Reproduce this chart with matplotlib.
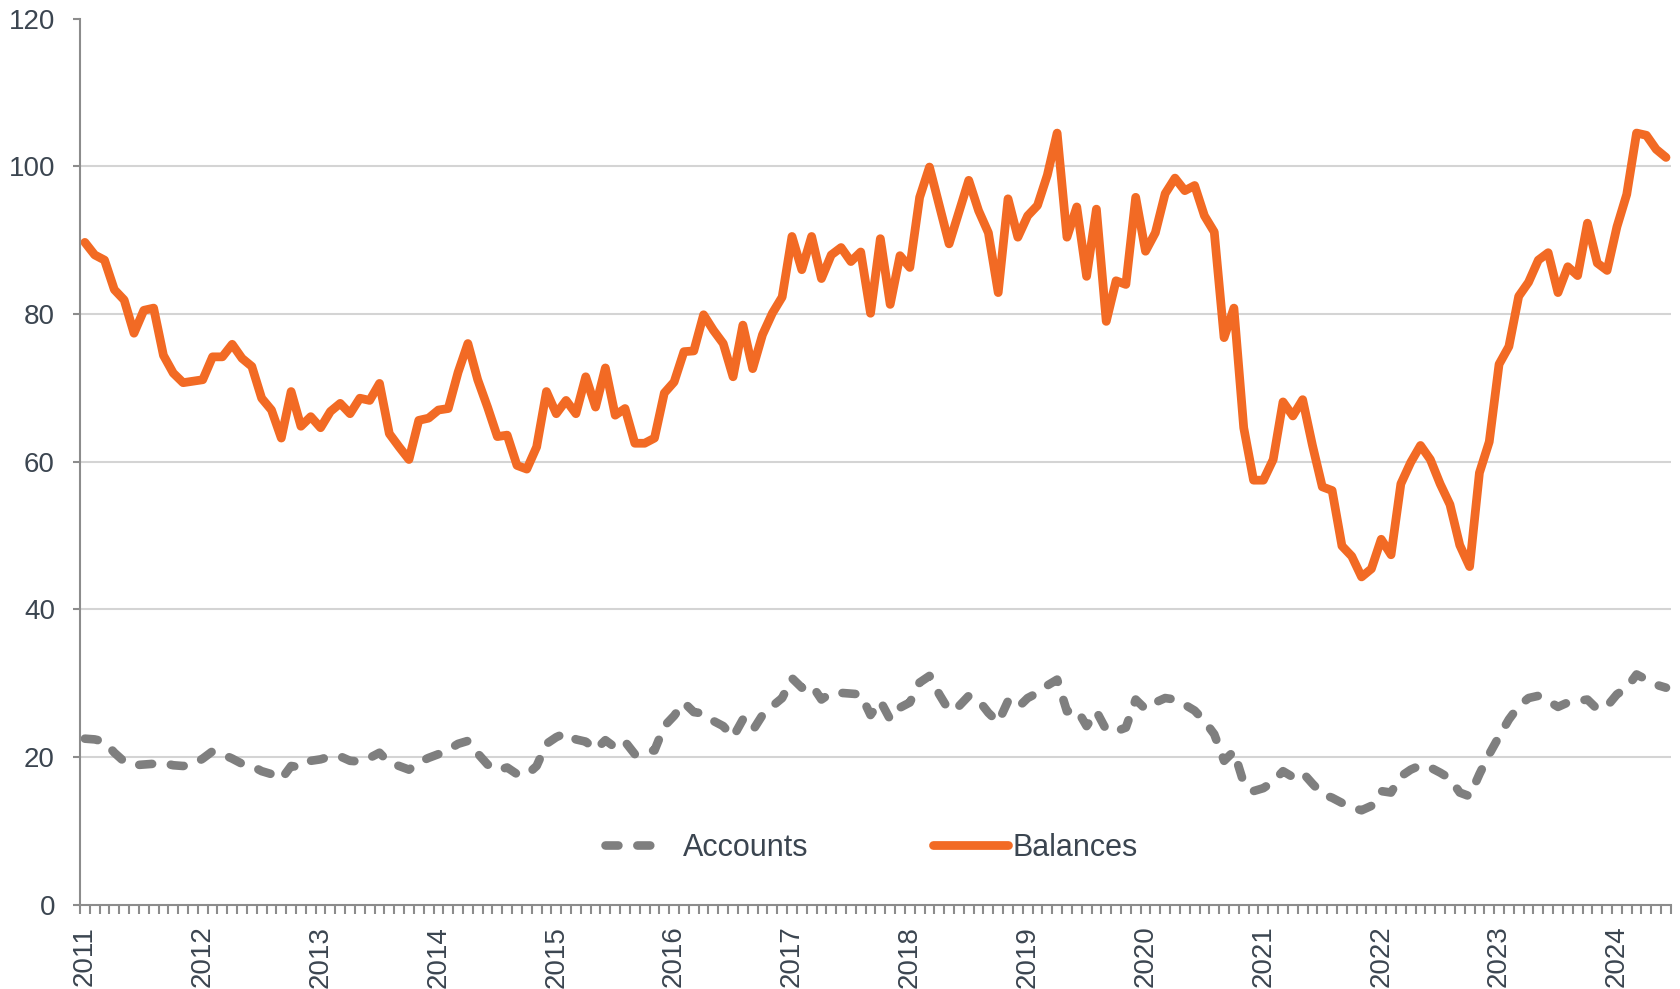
import numpy as np
import pandas as pd
import matplotlib
matplotlib.use('Agg')
import matplotlib.pyplot as plt
from matplotlib.ticker import FixedLocator

plt.rcParams['font.family'] = ['Liberation Sans', 'DejaVu Sans']

# monthly series, Jan 2011 - Jun 2024
months = pd.date_range('2011-01-01', periods=162, freq='MS')

balances = [
    89.7, 88.0, 87.3, 83.3, 81.9, 77.4, 80.5, 80.8, 74.4, 72.0, 70.7, 70.9,
    71.1, 74.2, 74.2, 75.9, 74.0, 72.9, 68.6, 67.0, 63.2, 69.5, 64.8, 66.1,
    64.6, 66.8, 67.9, 66.5, 68.6, 68.3, 70.6, 63.8, 62.0, 60.3, 65.6, 65.9,
    67.0, 67.2, 72.1, 76.0, 71.1, 67.4, 63.4, 63.6, 59.5, 59.0, 62.0, 69.5,
    66.5, 68.3, 66.5, 71.5, 67.4, 72.7, 66.3, 67.2, 62.5, 62.5, 63.2, 69.3,
    70.8, 74.9, 75.0, 79.9, 77.8, 76.0, 71.5, 78.5, 72.6, 77.2, 80.1, 82.3,
    90.5, 86.0, 90.5, 84.8, 88.0, 89.0, 87.1, 88.4, 80.1, 90.2, 81.3, 87.9,
    86.3, 95.8, 99.9, 94.7, 89.5, 93.8, 98.1, 94.0, 91.0, 82.9, 95.6, 90.4,
    93.3, 94.7, 98.8, 104.5, 90.4, 94.5, 85.1, 94.2, 79.0, 84.5, 84.0, 95.8,
    88.5, 91.0, 96.3, 98.4, 96.7, 97.4, 93.3, 91.1, 76.8, 80.8, 64.6, 57.5,
    57.5, 60.3, 68.1, 66.2, 68.4, 62.2, 56.6, 56.1, 48.6, 47.2, 44.4, 45.5,
    49.5, 47.4, 57.0, 59.9, 62.2, 60.3, 57.0, 54.2, 48.7, 45.8, 58.5, 62.7,
    73.2, 75.6, 82.4, 84.3, 87.3, 88.3, 82.9, 86.4, 85.2, 92.3, 86.9, 85.9,
    91.8, 96.2, 104.5, 104.2, 102.3, 101.2,
]

accounts = [
    22.5, 22.4, 22.1, 20.6, 19.4, 18.9, 19.0, 19.1, 19.2, 18.9, 18.8, 19.0,
    19.8, 20.8, 20.4, 19.8, 19.1, 18.8, 18.1, 17.7, 17.0, 18.8, 18.6, 19.5,
    19.7, 20.1, 20.1, 19.5, 19.4, 19.9, 20.6, 19.2, 18.8, 18.3, 19.3, 19.9,
    20.4, 21.0, 21.8, 22.2, 20.5, 19.0, 18.2, 18.6, 17.7, 17.6, 18.8, 21.8,
    22.7, 23.3, 22.4, 22.1, 21.0, 22.3, 21.3, 22.1, 20.4, 20.9, 20.9, 24.2,
    25.6, 27.4, 26.1, 25.9, 24.9, 24.2, 22.7, 25.1, 23.6, 25.7, 26.9, 28.0,
    30.7, 29.4, 29.8, 27.8, 28.7, 28.7, 28.6, 28.5, 25.7, 27.6, 25.1, 26.7,
    27.4, 30.1, 31.0, 28.5, 26.3, 26.9, 28.3, 27.7, 26.0, 24.7, 27.6, 26.7,
    28.0, 28.7, 29.7, 30.5, 26.2, 26.5, 24.2, 26.2, 23.7, 23.5, 24.0, 27.8,
    26.5, 27.4, 28.0, 27.8, 27.1, 26.3, 24.9, 23.1, 19.5, 20.8, 16.5, 15.4,
    15.8, 16.7, 18.1, 17.3, 17.9, 16.4, 15.0, 14.5, 13.8, 13.2, 12.8, 13.4,
    15.4, 15.2, 17.4, 18.3, 18.9, 18.6, 17.9, 17.1, 15.2, 14.7, 17.7, 20.4,
    22.8, 25.1, 26.9, 28.0, 28.3, 27.6, 26.8, 27.4, 27.6, 27.8, 26.5, 26.9,
    28.5, 29.4, 31.2, 30.5, 29.8, 29.4,
]

ORANGE = '#F26A24'
GREY = '#7F7F7F'
AXIS = '#8C8C8C'
TEXT = '#3B4550'

fig = plt.figure(figsize=(16.8, 9.89), dpi=100)
ax = fig.add_axes([0.0476, 0.0851, 0.9470, 0.8961])

x = np.arange(len(months))
acc_line, = ax.plot(x, accounts, color=GREY, lw=6.2, dashes=(1.5, 2.2),
                    dash_capstyle='round', solid_capstyle='round', label='Accounts')
bal_line, = ax.plot(x, balances, color=ORANGE, lw=6.3, solid_capstyle='round',
                    solid_joinstyle='round', label='Balances')

ax.set_xlim(-0.5, len(months) - 0.5)
ax.set_ylim(0, 120)

# y axis
ax.set_yticks(range(0, 121, 20))
for yv in range(20, 101, 20):
    ax.axhline(yv, color='#D4D4D4', lw=1.5, zorder=0)
ax.tick_params(axis='y', length=5, width=1.5, color=AXIS, pad=13,
               labelsize=20, labelcolor=TEXT)

# x axis: year labels at January, monthly tick marks between categories
year_pos = [i for i, m in enumerate(months) if m.month == 1]
ax.set_xticks(year_pos)
ax.set_xticklabels([str(months[i].year) for i in year_pos], rotation=90)
ax.xaxis.set_minor_locator(FixedLocator(np.arange(-0.5, len(months), 1.0)))
ax.tick_params(axis='x', which='major', length=0, pad=15, labelsize=20,
               labelcolor=TEXT)
ax.tick_params(axis='x', which='minor', length=6.5, width=1.5, color=AXIS)

for s in ['top', 'right']:
    ax.spines[s].set_visible(False)
for s in ['left', 'bottom']:
    ax.spines[s].set_color(AXIS)
    ax.spines[s].set_linewidth(1.5)

leg1 = ax.legend(handles=[acc_line], loc='center left', bbox_to_anchor=(0.330, 0.064),
                 frameon=False, fontsize=22, handlelength=2.05, handletextpad=0.49,
                 borderpad=0, borderaxespad=0, labelcolor=TEXT)
ax.add_artist(leg1)
ax.legend(handles=[bal_line], loc='center left', bbox_to_anchor=(0.536, 0.064),
          frameon=False, fontsize=22, handlelength=2.45, handletextpad=0.16,
          borderpad=0, borderaxespad=0, labelcolor=TEXT)

fig.savefig('out.png', dpi=100)
